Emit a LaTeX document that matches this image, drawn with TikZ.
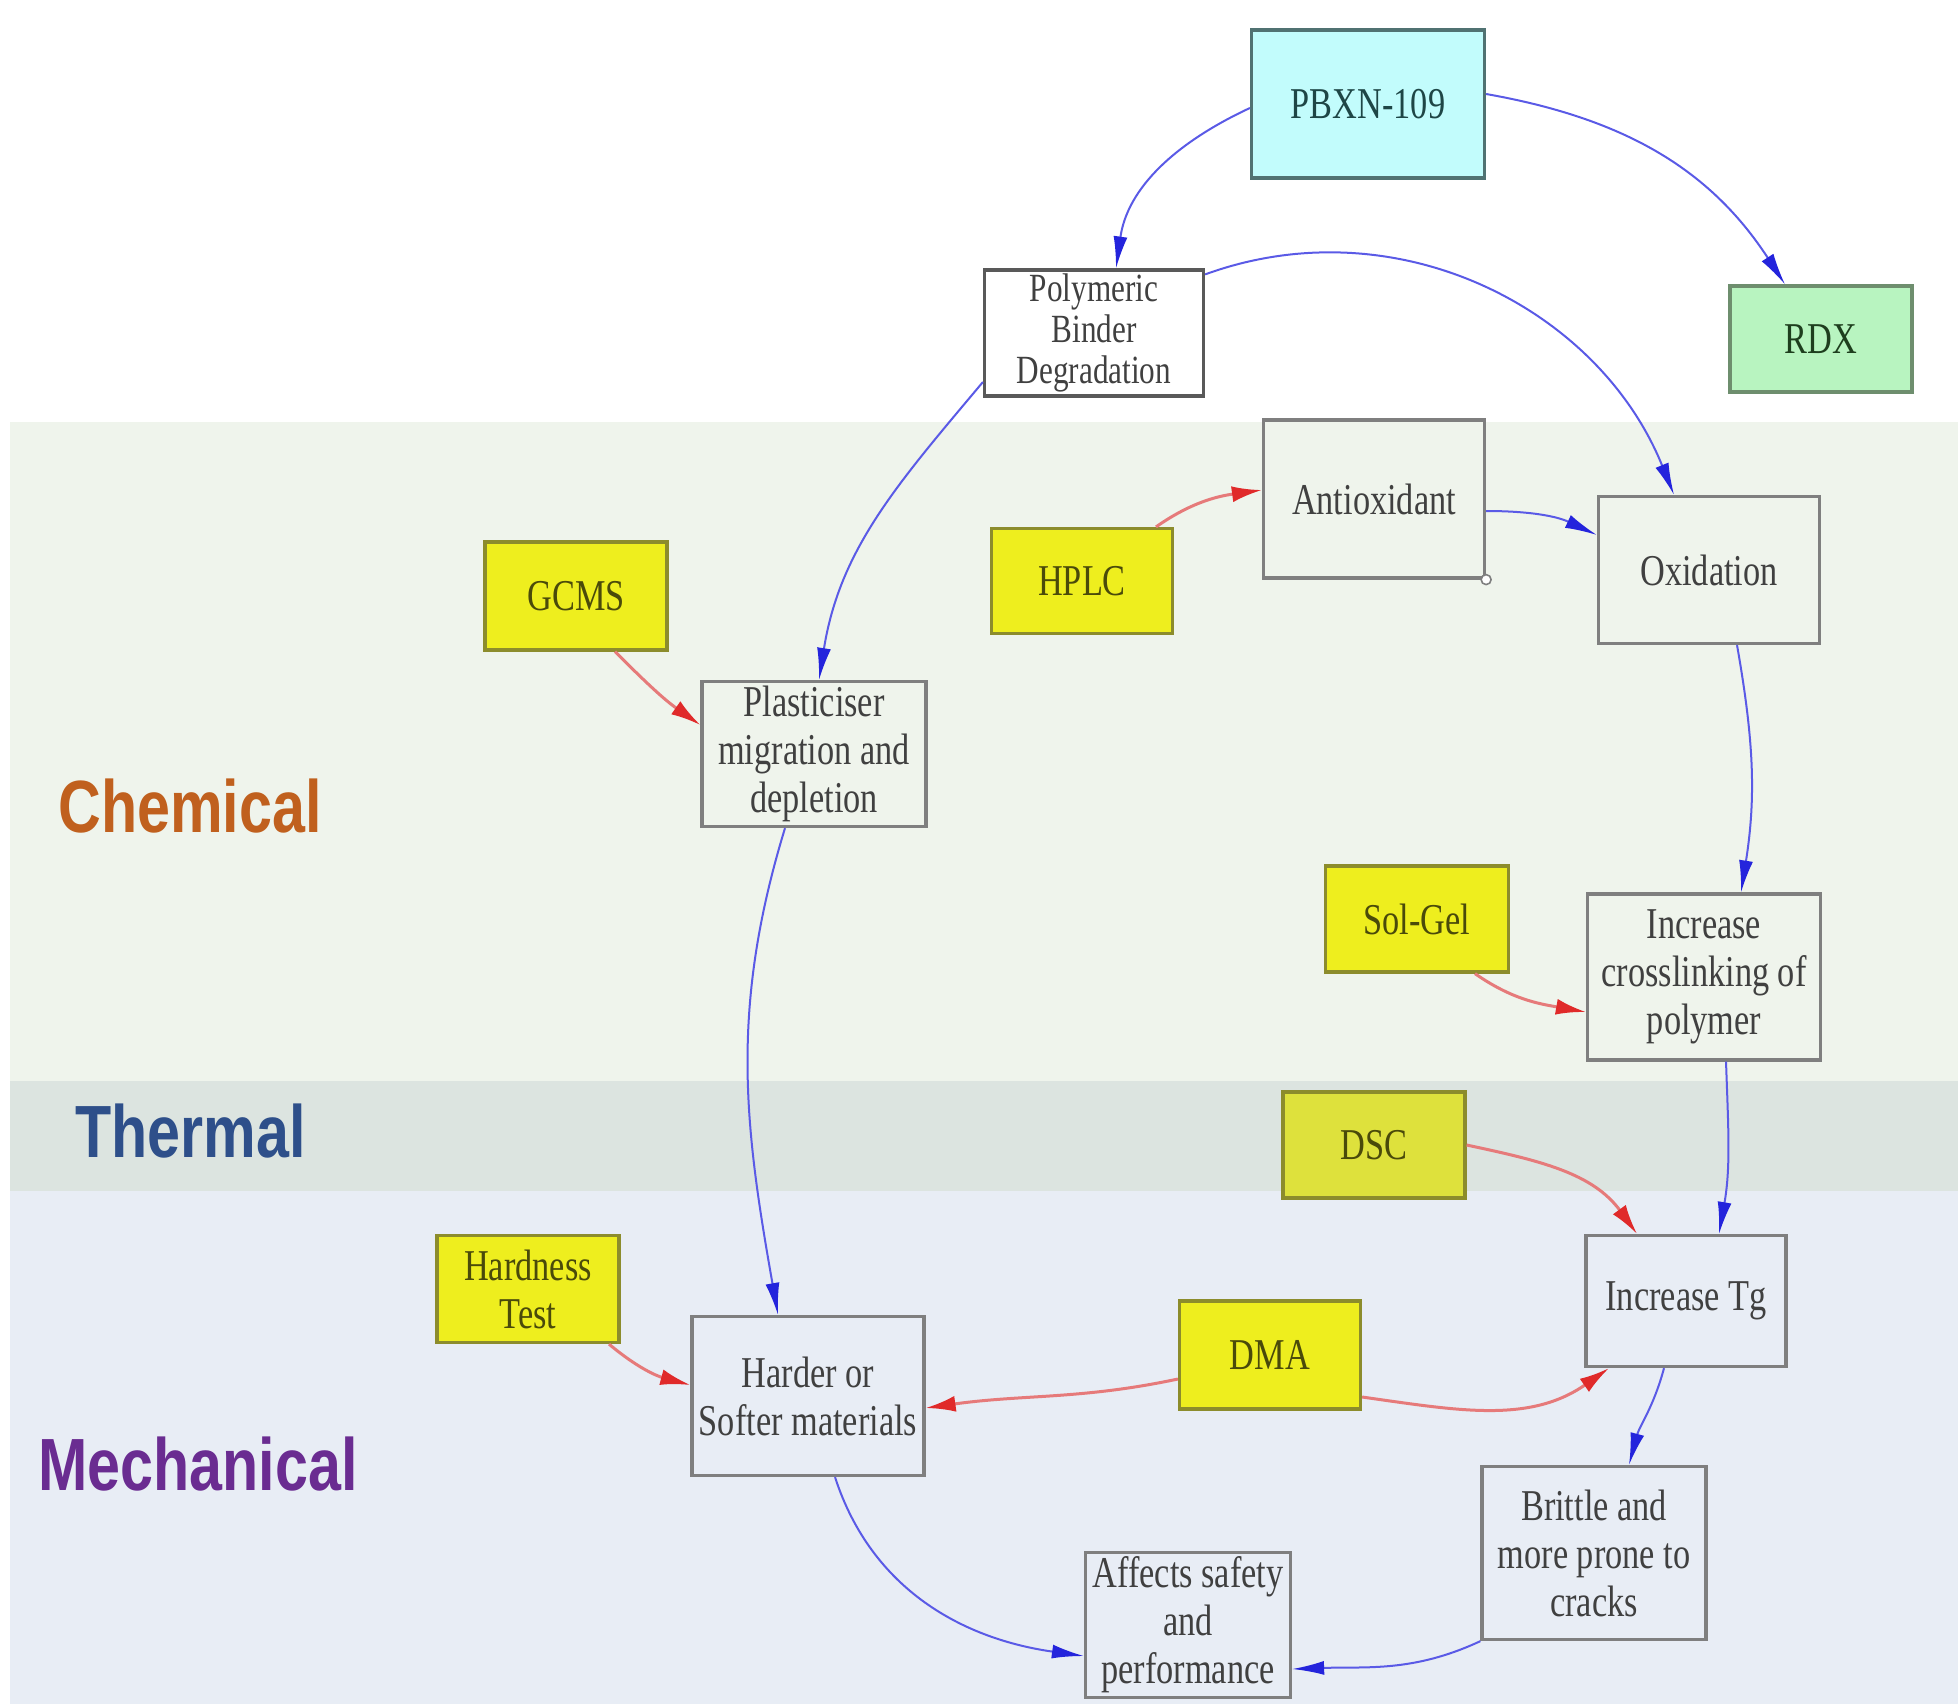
\documentclass[tikz,border=0pt]{standalone}
\usepackage{fontspec}
\setmainfont{Liberation Serif}[FakeStretch=0.78]
\newfontfamily\bandfont{Liberation Sans}[FakeStretch=0.8]
\usetikzlibrary{arrows.meta,calc}

\definecolor{chemband}{HTML}{EFF4EC}
\definecolor{thermband}{HTML}{DCE4E0}
\definecolor{mechband}{HTML}{E8EDF5}
\definecolor{chemtext}{HTML}{C0601E}
\definecolor{thermtext}{HTML}{2E4F8A}
\definecolor{mechtext}{HTML}{6A2C91}
\definecolor{boxline}{HTML}{7F7F7F}
\definecolor{boxtext}{HTML}{404040}
\definecolor{testfill}{HTML}{EEEE1E}
\definecolor{dscfill}{HTML}{DEE13C}
\definecolor{testline}{HTML}{8C8C2C}
\definecolor{testtext}{HTML}{4A4A0A}
\definecolor{pbxnfill}{HTML}{C2FCFC}
\definecolor{pbxnline}{HTML}{507272}
\definecolor{pbxntext}{HTML}{1E4646}
\definecolor{rdxfill}{HTML}{B8F4C0}
\definecolor{rdxline}{HTML}{6E8E6E}
\definecolor{rdxtext}{HTML}{1E3E1E}
\definecolor{flowline}{HTML}{5A5AE6}
\definecolor{flowhead}{HTML}{2424DC}
\definecolor{probeline}{HTML}{E67A7A}
\definecolor{probehead}{HTML}{E02A2A}

\tikzset{
	stage/.style={draw=boxline, line width=1.6pt, text=boxtext,
			align=center, inner sep=0pt,
			font=\fontsize{22}{24}\selectfont},
	testbox/.style={stage, draw=testline, fill=testfill, text=testtext},
	flow/.style={draw=flowline, line width=1pt,
			-{Latex[length=16pt,width=7pt,color=flowhead]}},
	probe/.style={draw=probeline, line width=1.5pt,
			-{Latex[length=15pt,width=8pt,color=probehead]}},
	bandlabel/.style={font=\bandfont\bfseries\fontsize{37}{40}\selectfont,
			inner sep=0pt, anchor=west}
}

\begin{document}
\begin{tikzpicture}[x=0.5pt,y=0.5pt]

\useasboundingbox (0,0) rectangle (1958,-1704);

% BANDS
\fill[chemband]  (10,-422)  rectangle (1958,-1081);
\fill[thermband] (10,-1081) rectangle (1958,-1191);
\fill[mechband]  (10,-1191) rectangle (1958,-1704);

\node(chem)[bandlabel, text=chemtext]   at (58,-806)  {Chemical};
\node(therm)[bandlabel, text=thermtext] at (75,-1131) {Thermal};
\node(mech)[bandlabel, text=mechtext]   at (38,-1464) {Mechanical};

% NODES

\node(pbxn)[stage, draw=pbxnline, fill=pbxnfill, text=pbxntext,
			minimum width=116.5pt, minimum height=74pt]  at (1368,-104)  {PBXN-109};

\node(rdx)[stage, draw=rdxline, fill=rdxfill, text=rdxtext,
			minimum width=91pt, minimum height=53pt]  at (1821,-339)  {RDX};

\node(poly)[stage, draw=black!65, fill=white,
			font=\fontsize{20}{20.5}\selectfont,
			minimum width=109.5pt, minimum height=63pt]  at (1094,-333)  {Polymeric\\Binder\\Degradation};

\node(anti)[stage,
			minimum width=110.5pt, minimum height=79pt]  at (1374,-499)  {Antioxidant};

\node(oxid)[stage,
			minimum width=110.5pt, minimum height=73.5pt]  at (1709,-570)  {Oxidation};

\node(hplc)[testbox,
			minimum width=90.5pt, minimum height=52.5pt]  at (1082,-581)  {HPLC};

\node(gcms)[testbox,
			minimum width=91pt, minimum height=54pt]  at (576,-596)  {GCMS};

\node(plast)[stage,
			minimum width=112pt, minimum height=72.5pt]  at (814,-754)  {Plasticiser\\migration and\\depletion};

\node(solgel)[testbox,
			minimum width=91.5pt, minimum height=53pt]  at (1417,-919)  {Sol-Gel};

\node(cross)[stage,
			minimum width=116.5pt, minimum height=83pt]  at (1704,-977)  {Increase\\crosslinking of\\polymer};

\node(dsc)[testbox, fill=dscfill,
			minimum width=91pt, minimum height=53pt]  at (1374,-1145)  {DSC};

\node(tg)[stage,
			minimum width=100pt, minimum height=65.5pt]  at (1686,-1301)  {Increase Tg};

\node(hard)[testbox,
			minimum width=91pt, minimum height=53.5pt]  at (528,-1289)  {Hardness\\Test};

\node(dma)[testbox,
			minimum width=90.5pt, minimum height=54pt]  at (1270,-1355)  {DMA};

\node(harder)[stage,
			minimum width=116pt, minimum height=79.5pt]  at (808,-1396)  {Harder or\\Softer materials};

\node(brittle)[stage,
			minimum width=112pt, minimum height=86.5pt]  at (1594,-1553)  {Brittle and\\more prone to\\cracks};

\node(affects)[stage,
			minimum width=102.5pt, minimum height=72.5pt]  at (1188,-1625)  {Affects safety\\and\\performance};

\draw[boxline, line width=0.8pt, fill=white] (anti.south east) circle (2.5pt);

% CONNECTORS
\draw[flow] ([yshift=-2pt]pbxn.west) to[out=205, in=82] ([xshift=11pt]poly.north);
\draw[flow] ([yshift=5pt]pbxn.east) to[out=-10, in=123] ([xshift=-18pt]rdx.north);
\draw[flow] ([yshift=-3pt]poly.north east) to[out=20, in=112] ([xshift=-17.5pt]oxid.north);
\draw[flow] ([yshift=-24.5pt]poly.west) to[out=230, in=81] ([xshift=2.5pt]plast.north);
\draw[flow] ([yshift=-6pt]anti.east) to[out=0, in=155] ([yshift=17.5pt]oxid.west);
\draw[flow] ([xshift=14pt]oxid.south) to[out=-80, in=81] ([xshift=18.5pt]cross.north);
\draw[flow] ([xshift=-14.5pt]plast.south) to[out=253, in=100] ([xshift=-15pt]harder.north);
\draw[flow] ([xshift=11pt]cross.south) to[out=-88, in=80] ([xshift=16.5pt]tg.north);
\draw[flow] ([xshift=-11pt]tg.south) to[out=-105, in=75] ([xshift=17.5pt]brittle.north);
\draw[flow] ([xshift=13.5pt]harder.south) to[out=-72, in=172] ([yshift=-15.5pt]affects.west);
\draw[flow] (brittle.south west) to[out=205, in=2] ([yshift=-22pt]affects.east);

% tests
\draw[probe] ([xshift=37pt]hplc.north) to[out=35, in=188] ([yshift=4.5pt]anti.west);
\draw[probe] ([xshift=19.5pt]gcms.south) to[out=-45, in=145] ([yshift=14.5pt]plast.west);
\draw[probe] ([xshift=29pt]solgel.south) to[out=-35, in=170] ([yshift=-17.5pt]cross.west);
\draw[probe] (dsc.east) to[out=-12, in=126] ([xshift=-24.5pt]tg.north);
\draw[probe] ([yshift=-21pt]dma.east) to[out=-8, in=215] ([xshift=-38.5pt]tg.south);
\draw[probe] ([yshift=-12pt]dma.west) to[out=192, in=8] ([yshift=-6pt]harder.east);
\draw[probe] ([xshift=40.5pt]hard.south) to[out=-40, in=165] ([yshift=5.5pt]harder.west);

\end{tikzpicture}
\end{document}
